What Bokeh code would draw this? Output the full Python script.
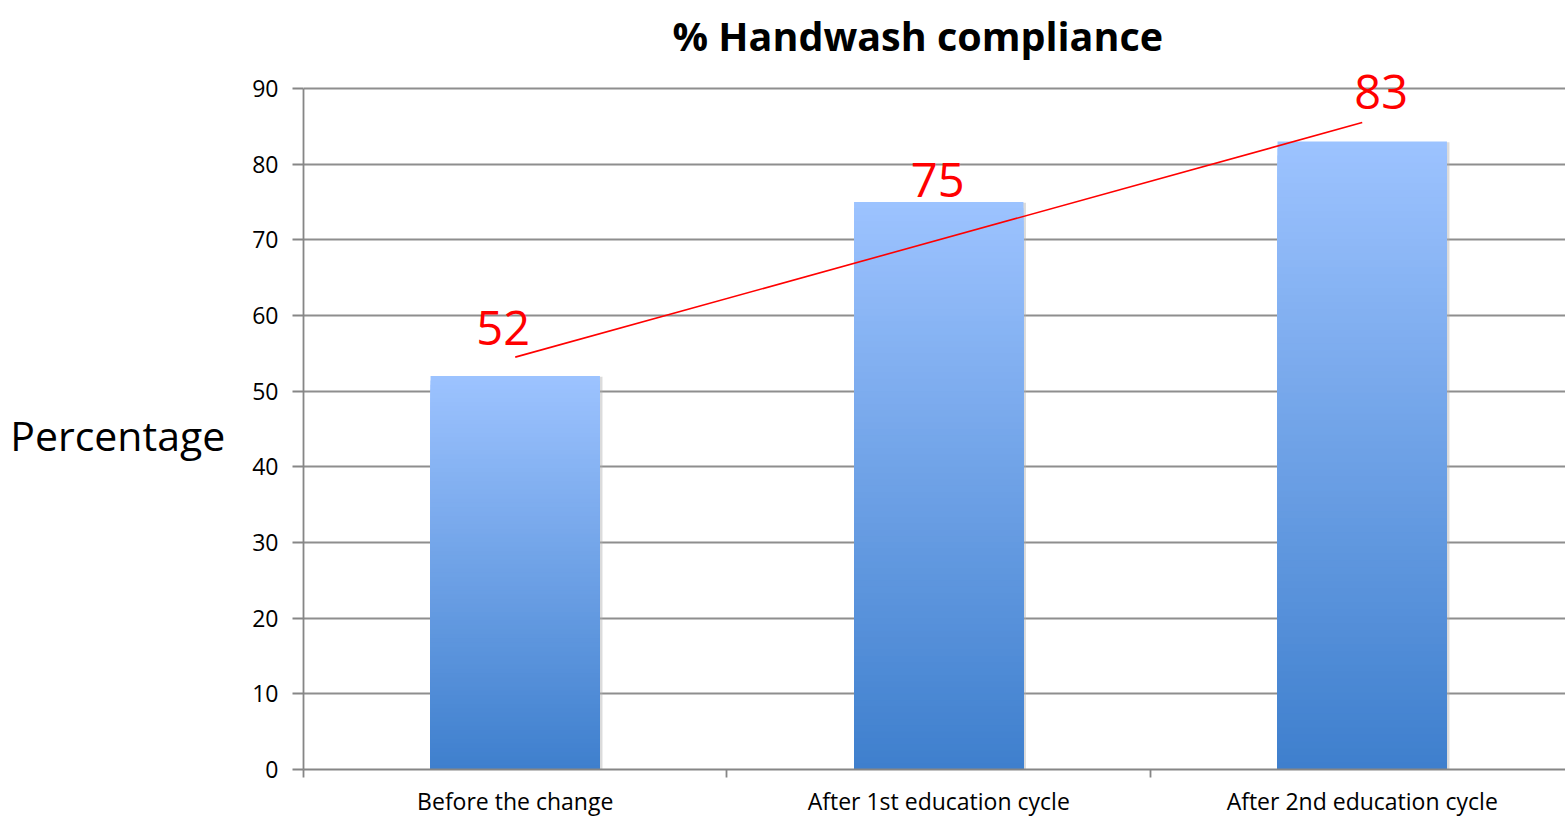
import numpy as np
from bokeh.plotting import figure
from bokeh.models import FixedTicker, Range1d, ColumnDataSource, LabelSet
from bokeh.core.properties import value
from bokeh.embed import file_html
from bokeh.resources import INLINE

# ---- data ----
categories = ["Before the change", "After 1st education cycle", "After 2nd education cycle"]
compliance = [52, 75, 83]
y_ticks = [0, 10, 20, 30, 40, 50, 60, 70, 80, 90]
title_text = "% Handwash compliance"
y_label = "Percentage"

# ---- style ----
FONT = "Open Sans"
top_rgb = np.array([157, 195, 255])
bot_rgb = np.array([62, 127, 205])
bar_width = 0.40
n_slices = 90
label_dx = [-12, -1, 19]   # pixel nudges of the value labels
label_dy = [48, 22, 49]

n = len(categories)
xs = np.arange(n) + 0.5
vals = np.array(compliance, dtype=float)

p = figure(width=1565, height=819, output_backend="svg", toolbar_location=None,
           x_range=Range1d(0, 2.98), y_range=Range1d(0, 92.78),
           min_border_left=303, min_border_right=0, min_border_top=67,
           min_border_bottom=50)
p.outline_line_color = None
p.background_fill_color = "white"

# title
p.title.text = title_text
p.title.align = "left"
p.title.vertical_align = "top"
p.title.text_font = FONT
p.title.text_font_style = "bold"
p.title.text_font_size = "39.5px"
p.title.text_line_height = 0.6
p.title.text_color = "black"
p.title.offset = 369
p.title.standoff = 6

# shadow
p.vbar(x=xs + 0.006, top=vals - 0.1, bottom=-0.45, width=bar_width, fill_color="#b0b0b0",
       fill_alpha=0.45, line_color=None)
# gradient bars: nested slices from the bottom, tallest (lightest) drawn first
bx, bt, bc = [], [], []
for x, v in zip(xs, vals):
    edges = np.linspace(0, v, n_slices + 1)
    for i in range(n_slices - 1, -1, -1):
        t = (edges[i] + edges[i + 1]) / 2 / v  # 0 bottom, 1 top
        c = bot_rgb + (top_rgb - bot_rgb) * t
        bx.append(x); bt.append(edges[i + 1])
        bc.append("#%02x%02x%02x" % tuple(int(round(k)) for k in c))
p.vbar(x=bx, bottom=0, top=bt, width=bar_width, fill_color=bc, line_color=None)

# linear trend line
slope, intercept = np.polyfit(xs, vals, 1)
p.line(x=[xs[0], xs[-1]], y=[slope * xs[0] + intercept, slope * xs[-1] + intercept],
       line_color="#ff0000", line_width=1.6)

# value labels
src = ColumnDataSource(dict(x=xs, y=vals, txt=[str(v) for v in compliance],
                            dx=label_dx, dy=label_dy))
p.add_layout(LabelSet(x="x", y="y", text="txt", x_offset="dx", y_offset="dy", source=src,
                      text_color="#ff0000", text_font=value(FONT), text_font_size="47px",
                      text_align="center", text_baseline="middle"))

# grid
p.xgrid.visible = False
p.ygrid.ticker = FixedTicker(ticks=y_ticks)
p.ygrid.grid_line_color = "#8e8e8e"
p.ygrid.grid_line_width = 1.8
p.ygrid.level = "underlay"

# y axis
ya = p.yaxis[0]
ya.ticker = FixedTicker(ticks=y_ticks)
ya.bounds = (0, 90)
ya.axis_label = "\n" + y_label
ya.axis_label_orientation = "horizontal"
ya.axis_label_text_font = FONT
ya.axis_label_text_font_style = "normal"
ya.axis_label_text_font_size = "41px"
ya.axis_label_text_line_height = 0.6
ya.axis_label_text_color = "black"
ya.axis_label_standoff = 24
ya.major_label_text_font = FONT
ya.major_label_text_font_size = "23px"
ya.major_label_text_color = "black"
ya.major_label_standoff = 14
ya.axis_line_color = "#868686"
ya.axis_line_width = 1.8
ya.major_tick_line_color = "#868686"
ya.major_tick_line_width = 1.8
ya.major_tick_out = 11
ya.major_tick_in = 0
ya.minor_tick_line_color = None

# x axis
xa = p.xaxis[0]
xa.ticker = FixedTicker(ticks=list(xs), minor_ticks=list(range(n + 1)))
xa.major_label_overrides = {float(x): c for x, c in zip(xs, categories)}
xa.major_label_text_font = FONT
xa.major_label_text_font_size = "23px"
xa.major_label_text_color = "black"
xa.major_label_standoff = 7
xa.major_tick_line_color = None
xa.minor_tick_line_color = "#868686"
xa.minor_tick_line_width = 1.8
xa.minor_tick_out = 8
xa.minor_tick_in = 0
xa.axis_line_color = "#868686"
xa.axis_line_width = 1.8

open("out.html", "w").write(file_html(p, INLINE))
